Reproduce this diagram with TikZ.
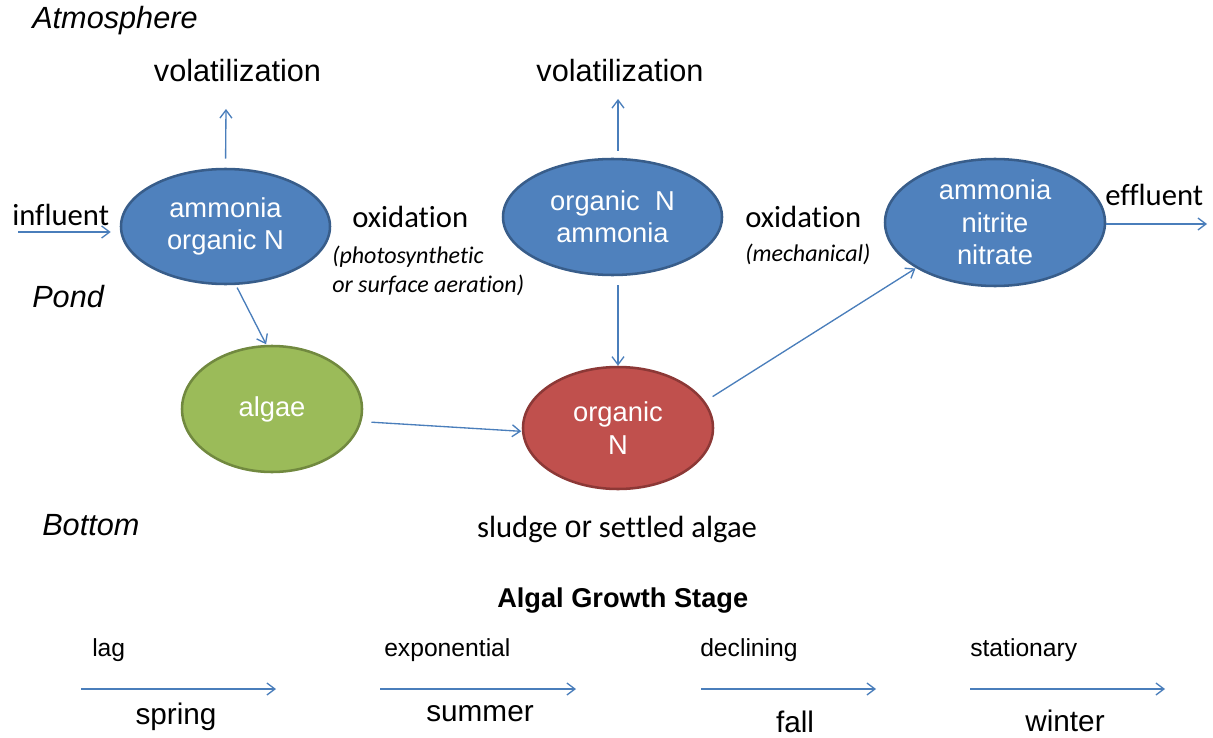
\documentclass[tikz,border=0pt]{standalone}
\usepackage{fontspec}
\setmainfont{Liberation Sans}
\newfontfamily\calfont[Ligatures={NoCommon}]{Carlito}
\usetikzlibrary{shapes.geometric,arrows.meta}
\definecolor{blueF}{HTML}{4F81BD}
\definecolor{blueD}{HTML}{385D8A}
\definecolor{greenF}{HTML}{9BBB59}
\definecolor{greenD}{HTML}{71893F}
\definecolor{redF}{HTML}{C0504D}
\definecolor{redD}{HTML}{8C3836}
\definecolor{arrC}{HTML}{4A7EBB}
\begin{document}
\begin{tikzpicture}[x=0.75pt,y=-0.75pt,
  ell/.style={ellipse, line width=1.9pt, inner sep=0pt, text=white, align=center,
    font=\fontsize{20.5}{24}\selectfont},
  blueell/.style={ell, fill=blueF, draw=blueD},
  arr/.style={draw=arrC, line width=1pt, -{Straight Barb[length=6pt,width=9pt,line width=1pt]}},
  lbl/.style={inner sep=0pt, anchor=base west},
  big/.style={font=\fontsize{23}{27}\selectfont},
  bigit/.style={font=\itshape\fontsize{23}{27}\selectfont},
  cal/.style={font=\calfont\fontsize{23}{27}\selectfont},
  calit/.style={font=\calfont\itshape\fontsize{18}{22}\selectfont},
  stage/.style={font=\fontsize{18.5}{22}\selectfont},
  season/.style={inner sep=0pt, anchor=base, font=\fontsize{22.3}{26}\selectfont}
]
\useasboundingbox (0,0) rectangle (1213,738);

% region labels
\node[lbl, bigit] (atm) at (32,29) {Atmosphere};
\node[lbl, bigit] (pond) at (32,307) {Pond};
\node[lbl, bigit] (bottom) at (42,535) {Bottom};

% ellipses
\node[blueell, minimum width=156.75pt, minimum height=86.25pt] (e1) at (225.5,226.5) {ammonia\\organic N};
\node[blueell, minimum width=164.25pt, minimum height=87pt] (e2) at (612.5,217) {organic\ \ N\\ammonia};
\node[blueell, inner ysep=-3pt, minimum width=165pt, minimum height=95.25pt, font=\fontsize{20.5}{24.5}\selectfont] (e3) at (995,222.5) {ammonia\\nitrite\\nitrate};
\node[ell, fill=greenF, draw=greenD, minimum width=135pt, minimum height=94.5pt] (algae) at (272,409) {algae};
\node[ell, fill=redF, draw=redD, minimum width=142.5pt, minimum height=91.5pt, font=\fontsize{20.5}{24.5}\selectfont] (red) at (618,428) {organic\\N};

% texts
\node[inner sep=0pt, anchor=base, big] (vol1) at (237.5,82) {volatilization};
\node[inner sep=0pt, anchor=base, big] (vol2) at (620,82) {volatilization};
\node[lbl, cal] (inf) at (12,225) {influent};
\node[lbl, cal] (ox1) at (352,227) {oxidation};
\node[inner sep=0pt, anchor=west, align=left, calit] (ox1n) at (332,271) {(photosynthetic\\or surface aeration)};
\node[lbl, cal] (ox2) at (745,227) {oxidation};
\node[lbl, calit] (ox2n) at (745,261) {(mechanical)};
\node[lbl, cal] (eff) at (1105,205) {effluent};
\node[inner sep=0pt, anchor=base, cal] (sludge) at (617,537) {sludge {\rmfamily or} settled algae};
\node[lbl, font=\bfseries\fontsize{20.4}{24}\selectfont] (ags) at (497,607) {Algal Growth Stage};

% connectors
\coordinate (v1tip) at (226,109);
\draw[arr, shorten <=6.75pt] (e1.north) -- (v1tip);
\coordinate (v2tip) at (618,99);
\draw[arr, shorten <=5.25pt] (v2tip |- e2.north) -- (v2tip);
\coordinate (inftail) at (18,232);
\draw[arr, shorten >=6.75pt] (inftail) -- (inftail -| e1.west);
\draw[arr, shorten <=2.25pt, shorten >=0.5pt] (e1.-80) -- (algae.95);
\draw[arr, shorten <=7.5pt, shorten >=0.5pt] (algae.-8) -- (red.-178);
\draw[arr, shorten <=6.75pt, shorten >=0.5pt] (red.17) -- (e3.210);
\draw[arr, shorten <=6.75pt] (red.north |- e2.south) -- (red.north);
\coordinate (efftip) at (1207,224);
\draw[arr] (efftip -| e3.east) -- (efftip);

% growth stages
\node[lbl, stage] (lag) at (92,656) {lag};
\node[lbl, stage] (expo) at (384,656) {exponential};
\node[lbl, stage] (decl) at (700,656) {declining};
\node[lbl, stage] (stat) at (970,656) {stationary};
\coordinate (s1a) at (81,689);  \coordinate (s1b) at (276,689);
\coordinate (s2a) at (380,689); \coordinate (s2b) at (576,689);
\coordinate (s3a) at (701,689); \coordinate (s3b) at (876,689);
\coordinate (s4a) at (970,689); \coordinate (s4b) at (1165,689);
\draw[arr] (s1a) -- (s1b);
\draw[arr] (s2a) -- (s2b);
\draw[arr] (s3a) -- (s3b);
\draw[arr] (s4a) -- (s4b);
\node[season] (spring) at (176,724) {spring};
\node[season] (summer) at (480,721) {summer};
\node[season] (fall) at (795,732) {fall};
\node[season] (winter) at (1065,731) {winter};
\end{tikzpicture}
\end{document}
